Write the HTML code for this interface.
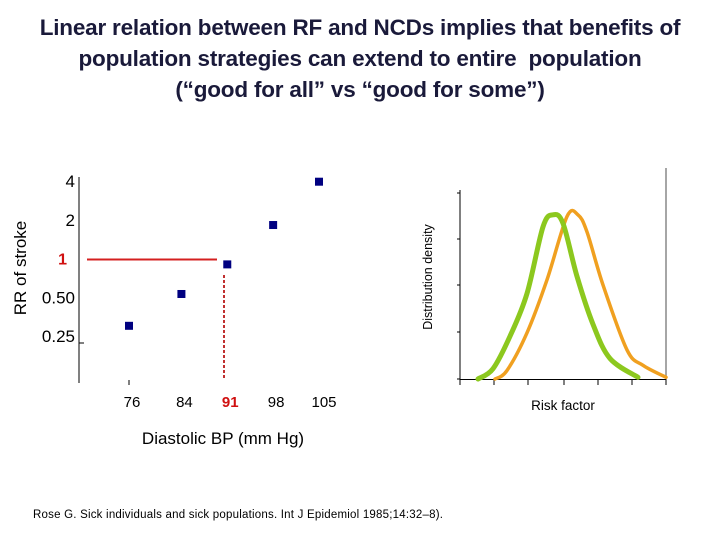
<!DOCTYPE html>
<html><head><meta charset="utf-8"><style>
body{margin:0;width:720px;height:540px;background:#fff;overflow:hidden;font-family:"Liberation Sans",sans-serif}
#title{position:absolute;left:0;top:12px;width:720px;text-align:center;font-weight:bold;font-size:22.5px;line-height:31px;color:#1a1a3a;letter-spacing:-0.2px}
</style></head><body>
<div id="title">Linear relation between RF and NCDs implies that benefits of<br>population strategies can extend to entire&nbsp; population<br>(“good for all” vs “good for some”)</div>
<svg id="c" width="720" height="540" style="position:absolute;left:0;top:0"></svg>
<script>
const bpCats=[76,84,91,98,105];
const rrVals=[0.30,0.53,0.90,1.82,3.95];
const rrTicks=[4,2,1,0.5,0.25];
const rrTickLabels=["4","2","1","0.50","0.25"];
const greenX=[478,493,510,527,543,553,563,577,593,610,638];
const greenY=[0,0.06,0.25,0.5,0.89,0.96,0.91,0.6,0.32,0.12,0.01];
const orangeX=[495,507,527,547,567,578,587,603,627,643,666];
const orangeY=[0,0.05,0.27,0.58,0.95,0.96,0.86,0.55,0.17,0.08,0.01];
const NS="http://www.w3.org/2000/svg";
const svg=document.getElementById('c');
function mk(t,a,txt){const e=document.createElementNS(NS,t);for(const k in a)e.setAttribute(k,a[k]);if(txt!==undefined)e.textContent=txt;svg.appendChild(e);return e;}
const xs=v=>129+(v-76)*(190/29);
const ys=v=>336-Math.log2(v/0.25)*38.75;
let e;
e=mk('line',{x1:79,y1:177,x2:79,y2:383,stroke:'#000','stroke-width':1});

e=mk('line',{x1:79,y1:343,x2:84,y2:343,stroke:'#000'});

e=mk('line',{x1:129,y1:380,x2:129,y2:385,stroke:'#000'});

rrTicks.forEach((t,i)=>{
 const red=t===1;
 e=mk('text',{x:red?67:75,y:ys(t)+6,'text-anchor':'end','font-size':red?16:17,'font-weight':red?'bold':'normal',fill:red?'#d01010':'#000'},rrTickLabels[i]);
 
});
bpCats.forEach((c,i)=>{
 const red=c===91;
 e=mk('text',{x:xs(c)+(i==4?5:3),y:407,'text-anchor':'middle','font-size':15,'font-weight':red?'bold':'normal',fill:red?'#d01010':'#000'},String(c));
 
});
e=mk('line',{x1:87,y1:ys(1)+1,x2:217,y2:ys(1)+1,stroke:'#d42020','stroke-width':2});

e=mk('line',{x1:224,y1:275,x2:224,y2:378,stroke:'#c03030','stroke-width':2,'stroke-dasharray':'3,2'});

bpCats.forEach((c,i)=>{
 e=mk('rect',{x:xs(c)-4,y:ys(rrVals[i])-4,width:8,height:8,fill:'#000080'});
 
});
e=mk('text',{x:0,y:0,transform:'translate(26,268) rotate(-90)','text-anchor':'middle','font-size':17},'RR of stroke');

e=mk('text',{x:223,y:444,'text-anchor':'middle','font-size':17},'Diastolic BP (mm Hg)');

// right chart
e=mk('line',{x1:460,y1:190,x2:460,y2:380,stroke:'#000'});

e=mk('line',{x1:460,y1:379.5,x2:666,y2:379.5,stroke:'#000'});

e=mk('line',{x1:666,y1:168,x2:666,y2:379,stroke:'#888','stroke-width':1.5});

[193,239,285,332,379].forEach(y=>{e=mk('line',{x1:457,y1:y,x2:460,y2:y,stroke:'#000'});});
[460,494,528,564,598,632,666].forEach(x=>{e=mk('line',{x1:x,y1:379,x2:x,y2:385,stroke:'#000'});});
const dy=v=>379-v*(379-208);
function curve(X,Y,col,w,name){
 const p=X.map((x,i)=>[x,dy(Y[i])]);
 let d='M'+p[0][0]+','+p[0][1];
 for(let i=0;i<p.length-1;i++){
  const p0=p[Math.max(0,i-1)],p1=p[i],p2=p[i+1],p3=p[Math.min(p.length-1,i+2)];
  const c1=[p1[0]+(p2[0]-p0[0])/6,p1[1]+(p2[1]-p0[1])/6];
  const c2=[p2[0]-(p3[0]-p1[0])/6,p2[1]-(p3[1]-p1[1])/6];
  d+=' C'+c1+' '+c2+' '+p2;
 }
 e=mk('path',{d:d,fill:'none',stroke:col,'stroke-width':w,'stroke-linejoin':'round','stroke-linecap':'round'});
 
}
curve(orangeX,orangeY,'#f0a020',3.5,'orange-distribution');
curve(greenX,greenY,'#8cc81e',5,'green-distribution');
e=mk('text',{x:0,y:0,transform:'translate(432,277) rotate(-90)','text-anchor':'middle','font-size':12.5},'Distribution density');

e=mk('text',{x:563,y:410,'text-anchor':'middle','font-size':13.5},'Risk factor');

e=mk('text',{x:33,y:518,'font-size':11.5,textLength:410},'Rose G. Sick individuals and sick populations. Int J Epidemiol 1985;14:32–8).');

</script>
</body></html>
